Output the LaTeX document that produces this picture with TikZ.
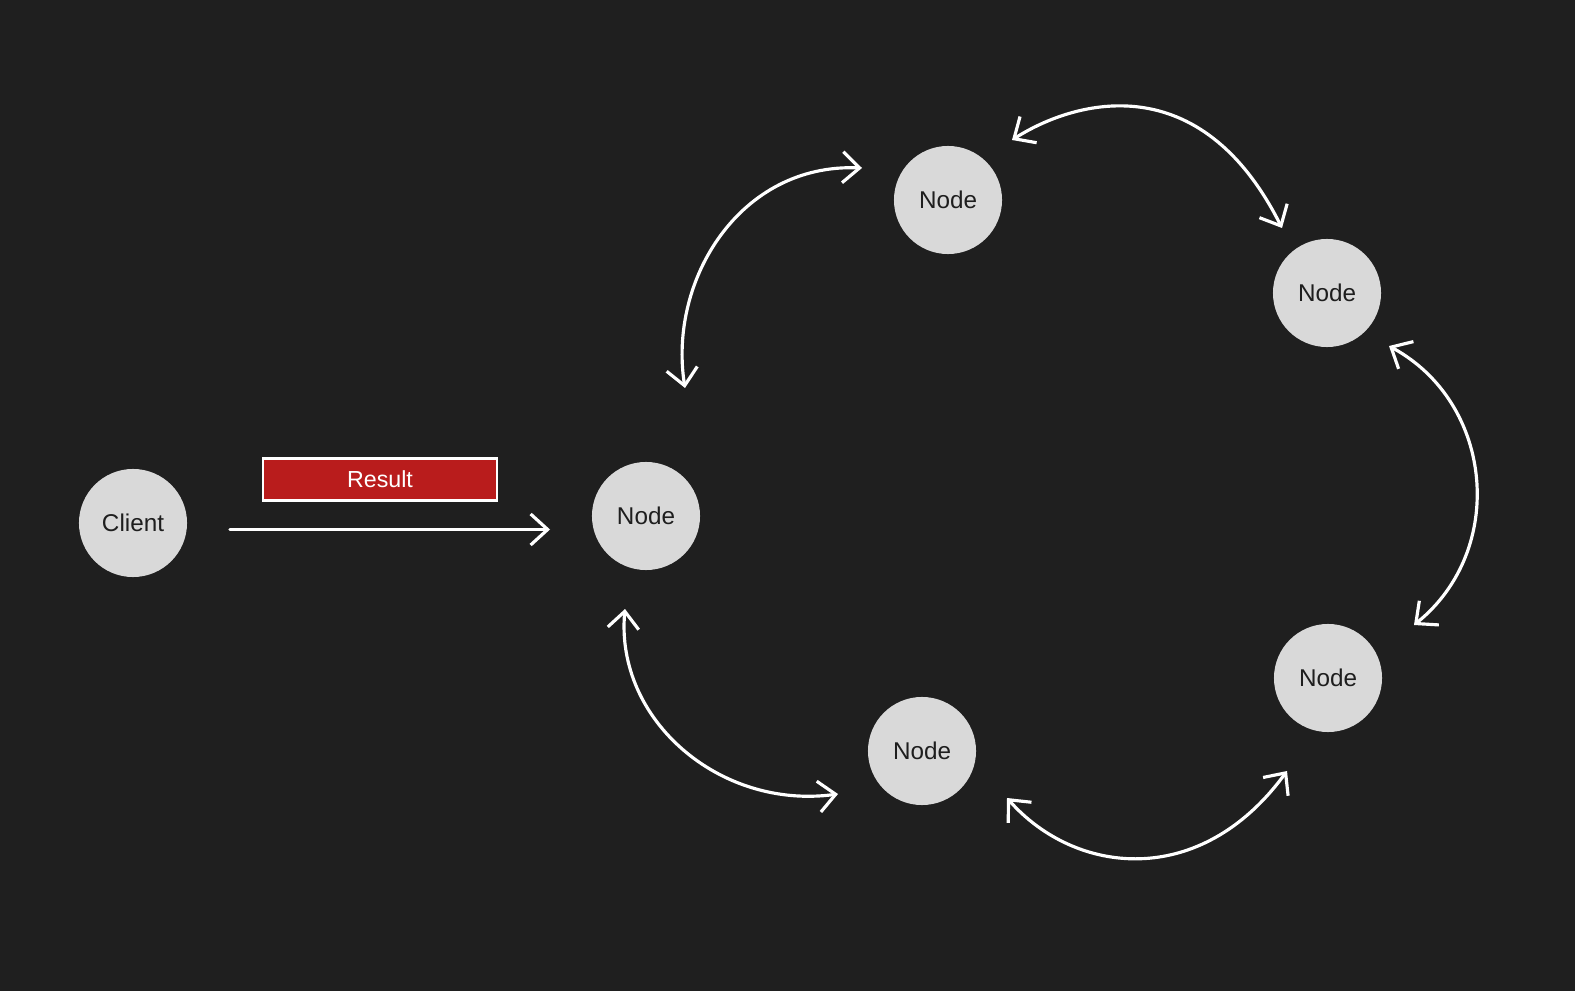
\documentclass[tikz,border=0pt]{standalone}
\usepackage{fontspec}
\setmainfont{Liberation Sans}
\usetikzlibrary{arrows.meta}
\definecolor{sfondo}{HTML}{1F1F1F}
\definecolor{grigio}{HTML}{D9D9D9}
\definecolor{testo}{HTML}{1E1E1E}
\definecolor{rosso}{HTML}{B91C1C}
\begin{document}
\begin{tikzpicture}[x=0.01cm, y=-0.01cm,
    nodo/.style={circle, fill=grigio, minimum size=1.08cm, inner sep=0pt, text=testo, font=\fontsize{6.9}{8}\selectfont},
    freccia/.style={draw=white, line width=0.9pt, line cap=round, >={Straight Barb[length=1.7mm, width=3.1mm]}},
    etichetta/.style={draw=white, line width=0.75pt, fill=rosso, text=white, minimum width=2.34cm, minimum height=0.42cm, inner sep=0pt, font=\fontsize{6.6}{8}\selectfont}]
    \fill[sfondo] (0,0) rectangle (1575,991);
    \node[nodo] (client) at (133,523) {Client};
    \foreach \n/\x/\y in {n0/646/516, n1/948/200, n2/1327/293, n3/1328/678, n4/922/751} {
        \node[nodo] (\n) at (\x,\y) {Node};
    }
    \node[etichetta] (result) at (380,479.5) {Result};
    % estremi delle frecce curve
    \coordinate (a1s) at (685,388); \coordinate (a1e) at (862,168);
    \coordinate (a2s) at (1012,140); \coordinate (a2e) at (1282,228);
    \coordinate (a3s) at (1389,346); \coordinate (a3e) at (1414,625);
    \coordinate (a4s) at (1007,798); \coordinate (a4e) at (1287,771);
    \coordinate (a5s) at (625,609); \coordinate (a5e) at (838,794);
    \coordinate (cs) at (230,529.5); \coordinate (ce) at (550,529.5);
    \draw[freccia, ->] (cs) -- (ce);
    \draw[freccia, <->] (a1s) .. controls (668,280) and (740,163) .. (a1e); % n0 - n1
    \draw[freccia, <->] (a2s) .. controls (1075,100) and (1200,65) .. (a2e); % n1 - n2
    \draw[freccia, <->] (a3s) .. controls (1494,403) and (1507,550) .. (a3e); % n2 - n3
    \draw[freccia, <->] (a4s) .. controls (1075,875) and (1200,890) .. (a4e); % n4 - n3
    \draw[freccia, <->] (a5s) .. controls (615,720) and (720,810) .. (a5e); % n0 - n4
\end{tikzpicture}
\end{document}
